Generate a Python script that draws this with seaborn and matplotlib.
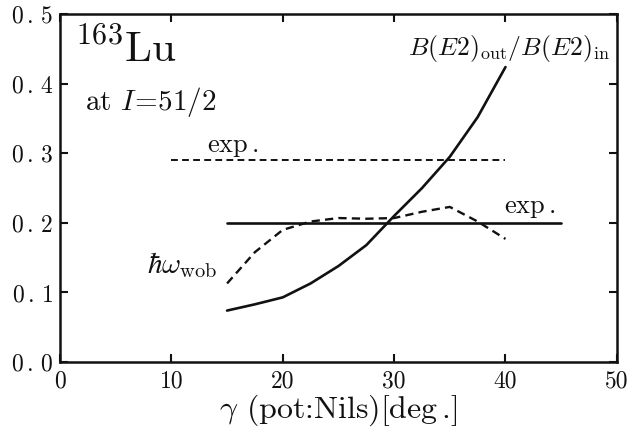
import matplotlib
matplotlib.use("Agg")
import matplotlib.pyplot as plt
import seaborn as sns
import pandas as pd

# Data
gamma_be2 = [15, 17.5, 20, 22.5, 25, 27.5, 30, 32.5, 35, 37.5, 40]
be2_ratio = [0.074, 0.083, 0.093, 0.113, 0.138, 0.168, 0.210, 0.250, 0.295, 0.352, 0.424]

gamma_wob = [15, 17.5, 20, 22.5, 25, 27.5, 30, 32.5, 35, 37.5, 40]
hw_wob = [0.113, 0.158, 0.190, 0.202, 0.207, 0.206, 0.207, 0.216, 0.223, 0.202, 0.177]

exp_be2_x = [10, 40]
exp_be2_y = [0.29, 0.29]
exp_wob_x = [15, 45]
exp_wob_y = [0.20, 0.20]

xticks = [0, 10, 20, 30, 40, 50]
yticks = [0.0, 0.1, 0.2, 0.3, 0.4, 0.5]

sns.set_style("ticks")
plt.rcParams['font.family'] = ['cmr10', 'DejaVu Serif']
plt.rcParams['mathtext.fontset'] = 'cm'
plt.rcParams['axes.formatter.use_mathtext'] = True

fig = plt.figure(figsize=(6.32, 4.30), dpi=100)
ax = fig.add_axes([0.095, 0.158, 0.881, 0.809])

df1 = pd.DataFrame({"g": gamma_be2, "v": be2_ratio})
df2 = pd.DataFrame({"g": gamma_wob, "v": hw_wob})
df3 = pd.DataFrame({"g": exp_be2_x, "v": exp_be2_y})
df4 = pd.DataFrame({"g": exp_wob_x, "v": exp_wob_y})

ink = "#111111"
sns.lineplot(data=df1, x="g", y="v", ax=ax, color=ink, lw=1.9)
sns.lineplot(data=df2, x="g", y="v", ax=ax, color=ink, lw=1.7, linestyle=(0, (3.5, 2.2)))
sns.lineplot(data=df3, x="g", y="v", ax=ax, color=ink, lw=1.4, linestyle=(0, (3.5, 2.2)))
sns.lineplot(data=df4, x="g", y="v", ax=ax, color=ink, lw=1.9)

ax.set_xlim(0, 50)
ax.set_ylim(0, 0.5)
ax.set_xticks(xticks)
ax.set_yticks(yticks)
ax.set_xticklabels([str(t) for t in xticks])
ax.set_yticklabels([r"$0\,.\,%d$" % round(t * 10) for t in yticks])
ax.tick_params(direction="in", length=6, width=1.5, top=True, right=True,
               labelsize=17, pad=5, colors=ink)
ax.tick_params(axis="x", pad=6)
for s in ax.spines.values():
    s.set_linewidth(1.8)
    s.set_color(ink)

ax.set_xlabel(r"$\gamma$ (pot:Nils)[deg$\,$.]", fontsize=23, labelpad=0, color=ink)
ax.set_ylabel("")

ax.text(1.35, 0.431, r"$^{163}\mathrm{Lu}$", fontsize=31, va="baseline", ha="left", color=ink)
ax.text(2.2, 0.362, r"at $I\!=\!51/2$", fontsize=21, va="baseline", ha="left", color=ink)
ax.text(13.2, 0.302, r"exp$\,$.", fontsize=19, va="baseline", ha="left", color=ink)
ax.text(39.9, 0.214, r"exp$\,$.", fontsize=19, va="baseline", ha="left", color=ink)
ax.text(49.4, 0.441, r"$B(E2)_{\rm out}/B(E2)_{\rm in}$", fontsize=18.5, va="baseline", ha="right", color=ink)
ax.text(14.1, 0.128, r"$\hbar\omega_{\rm wob}$", fontsize=21, va="baseline", ha="right", color=ink)

fig.savefig("out.png", dpi=100)
